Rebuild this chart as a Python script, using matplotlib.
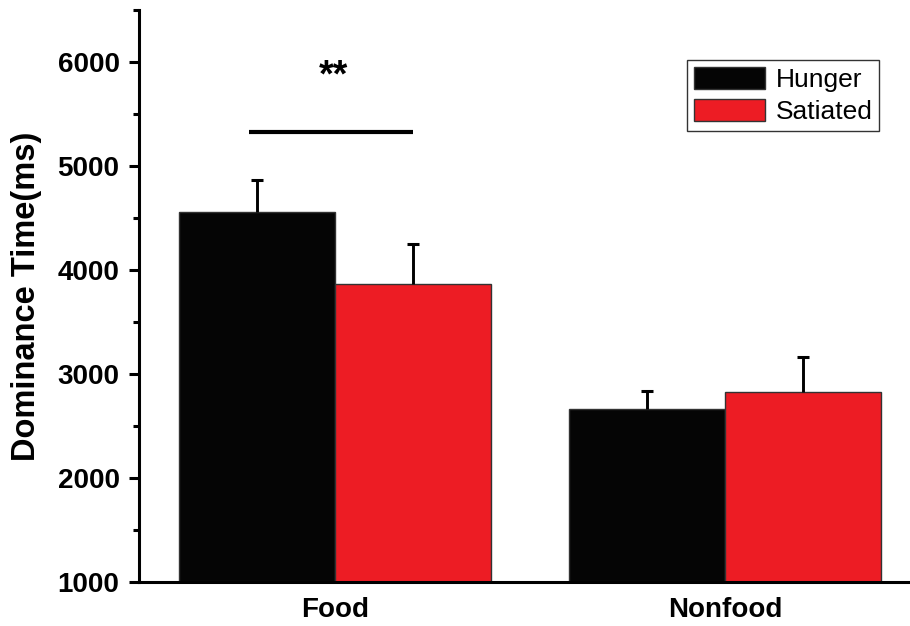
import matplotlib
matplotlib.use("Agg")
import matplotlib.pyplot as plt
import numpy as np
from matplotlib.ticker import MultipleLocator

plt.rcParams['font.family'] = ['Liberation Sans', 'DejaVu Sans']

categories = ["Food", "Nonfood"]
series_names = ["Hunger", "Satiated"]
hunger = [4555, 2663]
satiated = [3868, 2824]
hunger_err = [310, 176]
satiated_err = [382, 342]
sig_label = "**"
sig_level = 5330
y_ticks = [1000, 2000, 3000, 4000, 5000, 6000]

fig = plt.figure(figsize=(9.10, 6.26), dpi=100)
ax = fig.add_axes([139/910, 44/626, 1 - 139/910, 1 - 10/626 - 44/626])

x = np.arange(1, len(categories) + 1)
w = 0.4
black = "#050505"
red = "#ED1C24"
ekw = dict(elinewidth=2.1, capsize=4.5, capthick=2.2, ecolor="black")
b1 = ax.bar(x - w/2, hunger, w, color=black, edgecolor="#333333", linewidth=1.0,
            yerr=[np.zeros(len(hunger)), hunger_err], error_kw=ekw, label=series_names[0], zorder=2)
b2 = ax.bar(x + w/2, satiated, w, color=red, edgecolor="#333333", linewidth=1.0,
            yerr=[np.zeros(len(satiated)), satiated_err], error_kw=ekw, label=series_names[1], zorder=2)
# hide the lower caps (only upper error shown)
for b in (b1, b2):
    caps = b.errorbar.lines[1]
    if len(caps) >= 2:
        caps[0].set_visible(False)

ax.set_xlim(0.4974, 2.474)
ax.set_ylim(1000, 6500)
ax.set_yticks(y_ticks)
ax.yaxis.set_minor_locator(MultipleLocator(500))
ax.set_xticks(x)
ax.set_xticklabels(categories, fontsize=20, fontweight='bold')
ax.tick_params(axis='x', length=0, pad=11)
ax.tick_params(axis='y', which='major', length=7, width=2.2, direction='out', pad=7, labelsize=20)
ax.tick_params(axis='y', which='minor', length=4, width=2.2, direction='out')
for lab in ax.get_yticklabels():
    lab.set_fontweight('bold')

for s in ['top', 'right']:
    ax.spines[s].set_visible(False)
for s in ['left', 'bottom']:
    ax.spines[s].set_linewidth(2.2)

ax.set_ylabel("Dominance Time(ms)", fontsize=23.5, fontweight='bold', labelpad=11)

# significance
ax.plot([x[0] - w/2 - 0.02, x[0] + w/2], [sig_level, sig_level], color='black', lw=3, solid_capstyle='butt')
ax.text(x[0] - 0.005, sig_level + 360, sig_label, ha='center', va='bottom', fontsize=27, fontweight='bold')

leg = ax.legend(loc='upper right', bbox_to_anchor=(879/910, 1 - 60/626), bbox_transform=fig.transFigure,
                borderaxespad=0, fontsize=19, fancybox=False, edgecolor='#333333', framealpha=1,
                handlelength=2.7, handleheight=0.95, handletextpad=0.4, labelspacing=0.25,
                borderpad=0.25)
leg.get_frame().set_linewidth(1.0)

fig.savefig("out.png", dpi=100)
